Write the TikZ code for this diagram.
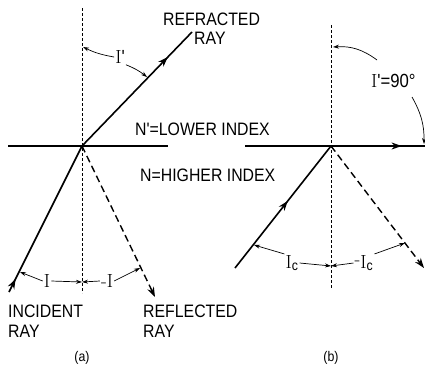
\documentclass[tikz,border=0pt]{standalone}
\usepackage{fontspec}
\newfontfamily\capsfont[FakeStretch=0.88]{Liberation Sans}
\usetikzlibrary{arrows.meta,decorations.markings}
\tikzset{
  ray/.style={line width=1.6pt},
  normalline/.style={line width=0.9pt, dash pattern=on 3pt off 2pt},
  reflray/.style={line width=1.4pt, dash pattern=on 7pt off 4pt, -{Stealth[length=10pt,width=7pt]}},
  midarrow/.style={postaction={decorate},
    decoration={markings,mark=at position #1 with {\arrow{Stealth[length=10pt,width=7pt]}}}},
  anglearrow/.style={line width=0.7pt, -{Stealth[length=6pt,width=4pt]}},
  caps/.style={font=\capsfont\fontsize{18}{20}\selectfont, inner sep=0pt, anchor=base west},
  anglbl/.style={font=\rmfamily\fontsize{19}{20}\selectfont, inner sep=1pt},
  panel/.style={font=\capsfont\fontsize{14}{15}\selectfont, inner sep=0pt},
}
\newcommand{\smallc}{\mbox{\capsfont\fontsize{14}{14}\selectfont c}}
\begin{document}
\begin{tikzpicture}[x=1pt,y=-1pt]
  \useasboundingbox (0,0) rectangle (425,370);
  % (a) refraction at a surface
  \coordinate (oa) at (82,146);
  \coordinate (nta) at (82,8);
  \coordinate (nba) at (82,293);
  \coordinate (sla) at (8,146);
  \coordinate (sra) at (168,146);
  \coordinate (refr) at (192,32);
  \coordinate (inca) at (9,292);
  \coordinate (refla) at (155,297);
  \draw [normalline] (nta) -- (nba);
  \draw [ray] (sla) -- (sra);
  \draw [ray,midarrow=0.78] (oa) -- (refr);
  \draw [ray,midarrow=0.09] (inca) -- (oa);
  \draw [reflray] (oa) -- (refla);
  \node [caps] (refrtxt) at (163,25) {REFRACTED};
  \node [caps] (refrtxtb) at (194,44) {RAY};
  \node [caps] (lowtxt) at (135,135) {N'=LOWER INDEX};
  \node [caps] (hightxt) at (140,181) {N=HIGHER INDEX};
  \node [caps,align=left,anchor=north west] (inctxt) at (8,305) {INCIDENT\\RAY};
  \node [caps,align=left,anchor=north west] (refltxt) at (143,305) {REFLECTED\\RAY};
  \node [panel] (capa) at (82,358) {(a)};
  % angle labels (a)
  \node [anglbl] (angr) at (120,57) {I\capsfont '};
  \coordinate (angrn) at (83,47);
  \coordinate (angrr) at (147,77);
  \draw [anglearrow] (angr.west) to[bend left=8] (angrn);
  \draw [anglearrow] (angr.south east) to[bend left=8] (angrr);
  \node [anglbl] (angi) at (47,281) {I};
  \coordinate (angii) at (20,272);
  \coordinate (angin) at (82,282);
  \draw [anglearrow] (angi.west) -- (angii);
  \draw [anglearrow] (angi.east) -- (angin);
  \node [anglbl] (angl) at (107,281) {-I};
  \coordinate (angll) at (140,268);
  \draw [anglearrow] (angl.west) -- (angin);
  \draw [anglearrow] (angl.east) -- (angll);
  % (b) critical angle
  \coordinate (ob) at (331,146);
  \coordinate (ntb) at (331,25);
  \coordinate (nbb) at (331,288);
  \coordinate (slb) at (245,146);
  \coordinate (srb) at (425,146);
  \coordinate (incb) at (235,268);
  \coordinate (reflb) at (424,268);
  \draw [normalline] (ntb) -- (nbb);
  \draw [ray,midarrow=0.87] (slb) -- (srb);
  \draw [ray,midarrow=0.55] (incb) -- (ob);
  \draw [reflray] (ob) -- (reflb);
  \node [panel] (capb) at (331,358) {(b)};
  \node [anglbl,anchor=base west] (angc) at (370,87) {I\capsfont '=90°};
  \coordinate (angcn) at (333,47);
  \coordinate (angcs) at (424,144);
  \draw [anglearrow] (377,60) to[bend right=20] (angcn);
  \draw [anglearrow] (412,97) to[bend left=15] (angcs);
  \node [anglbl] (angic) at (292,263) {I$_{\smallc}$};
  \coordinate (angici) at (254,245);
  \coordinate (angicn) at (331,266);
  \draw [anglearrow] (angic.north west) -- (angici);
  \draw [anglearrow] (angic.east) -- (angicn);
  \node [anglbl] (anglc) at (364,263) {\raisebox{3pt}{-}I$_{\smallc}$};
  \coordinate (anglcl) at (405,243);
  \draw [anglearrow] (anglc.west) -- (angicn);
  \draw [anglearrow] (anglc.north east) -- (anglcl);
\end{tikzpicture}
\end{document}
